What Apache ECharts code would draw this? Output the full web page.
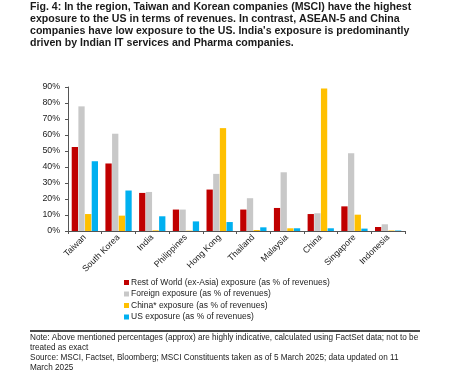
<!DOCTYPE html>
<html><head><meta charset="utf-8">
<script src="https://cdn.jsdelivr.net/npm/echarts@6/dist/echarts.min.js"></script>
<style>html,body{margin:0;padding:0;background:#fff}#c{width:474px;height:383px}</style>
</head><body><div id="c"></div>
<script>
const categories = ['Taiwan','South Korea','India','Philippines','Hong Kong','Thailand','Malaysia','China','Singapore','Indonesia'];
const restOfWorld = [52.5, 42.2, 23.8, 13.4, 25.9, 13.4, 14.4, 10.6, 15.4, 2.5];
const foreign     = [77.9, 60.8, 24.4, 13.4, 35.7, 20.5, 36.7, 11.1, 48.6, 4.2];
const chinaExp    = [10.6, 9.6, 0.4, 0.2, 64.3, 0.6, 1.7, 89.1, 10.2, 0.3];
const usExp       = [43.6, 25.3, 9.2, 6.0, 5.6, 2.3, 1.7, 1.7, 1.5, 0.3];
const seriesNames = ['Rest of World (ex-Asia) exposure (as % of revenues)','Foreign exposure (as % of revenues)','China* exposure (as % of revenues)','US exposure (as % of revenues)'];
const colors = ['#C00000','#C8C8C8','#FFC000','#00B0F0'];
const titleText = 'Fig. 4: In the region, Taiwan and Korean companies (MSCI) have the highest\nexposure to the US in terms of revenues. In contrast, ASEAN-5 and China\ncompanies have low exposure to the US. India\'s exposure is predominantly\ndriven by Indian IT services and Pharma companies.';
const noteText = 'Note: Above mentioned percentages (approx) are highly indicative, calculated using FactSet data; not to be\ntreated as exact\nSource: MSCI, Factset, Bloomberg; MSCI Constituents taken as of 5 March 2025; data updated on 11\nMarch 2025';

const chart = echarts.init(document.getElementById('c'), null, {renderer:'canvas'});
const data = [restOfWorld, foreign, chinaExp, usExp];
chart.setOption({
  animation:false,
  textStyle:{fontFamily:'Liberation Sans, Arial, sans-serif'},
  title:[
    {text:titleText, left:30, top:1, padding:0, textStyle:{fontSize:10.6, fontWeight:'bold', color:'#1a1a1a', lineHeight:12, fontFamily:'Liberation Sans, Arial, sans-serif'}},
    {text:noteText, left:30, top:333, padding:0, textStyle:{fontSize:8.2, fontWeight:'normal', color:'#222', lineHeight:9.9, fontFamily:'Liberation Sans, Arial, sans-serif'}}
  ],
  graphic:[{type:'line', shape:{x1:30,y1:331,x2:420,y2:331}, style:{stroke:'#111', lineWidth:1.5}}],
  legend:{orient:'vertical', left:124, top:278, padding:0, itemWidth:5, itemHeight:5, itemGap:2.5, icon:'rect',
    textStyle:{fontSize:8.5, color:'#222', padding:[0,0,0,-3]}, data:seriesNames},
  grid:{left:68, right:69, top:87, bottom:152, containLabel:false},
  xAxis:{type:'category', data:categories,
    axisLine:{lineStyle:{color:'#555', width:1}},
    axisTick:{show:true, alignWithLabel:false, length:3, lineStyle:{color:'#555'}},
    axisLabel:{rotate:45, fontSize:8.8, color:'#222', margin:5, interval:0}},
  yAxis:{type:'value', min:0, max:90, interval:10,
    axisLine:{show:true, lineStyle:{color:'#555'}},
    axisTick:{show:true, length:3, lineStyle:{color:'#555'}},
    splitLine:{show:false},
    axisLabel:{formatter:'{value}%', fontSize:8.8, color:'#222', margin:8}},
  series: data.map((d,i)=>({name:seriesNames[i], type:'bar', data:d, itemStyle:{color:colors[i]},
    barGap:'6%', barCategoryGap:'22%'}))
});
</script></body></html>
